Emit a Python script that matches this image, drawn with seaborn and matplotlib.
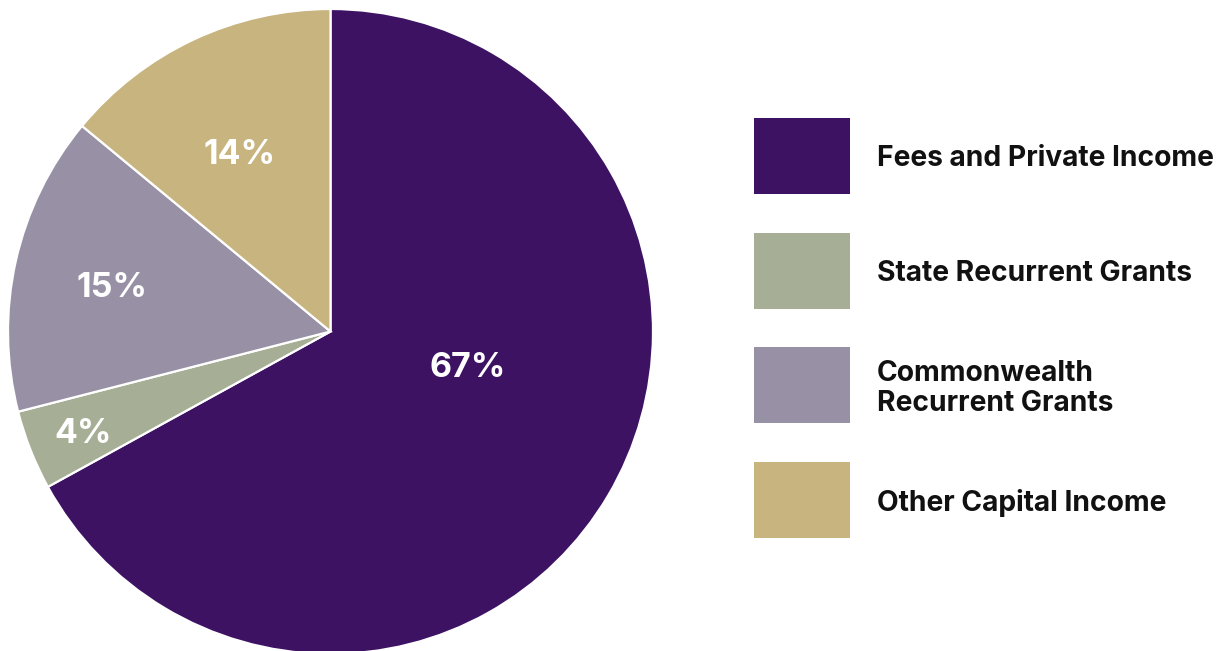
import numpy as np
import matplotlib
matplotlib.use("Agg")
import matplotlib.pyplot as plt
from matplotlib.patches import Rectangle
import seaborn as sns

categories = ["Fees and Private Income", "State Recurrent Grants",
              "Commonwealth\nRecurrent Grants", "Other Capital Income"]
values = [67, 4, 15, 14]
colors = ["#3D1263", "#A6AE96", "#9891A6", "#C8B47F"]

sns.set_theme(style="white")
plt.rcParams['font.family'] = ['Inter', 'DejaVu Sans']

W, H = 1226, 651
fig = plt.figure(figsize=(W / 100, H / 100), dpi=100)
fig.patch.set_facecolor("white")

# pie axes
cx, cy, r = 330.5, 331.5, 322.5
ax = fig.add_axes([(cx - r) / W, (H - cy - r) / H, 2 * r / W, 2 * r / H])
palette = sns.color_palette(colors)
wedges, _ = ax.pie(values, colors=palette, startangle=90, counterclock=False,
                   radius=1, wedgeprops=dict(edgecolor="white", linewidth=1.6))
ax.set_xlim(-1, 1)
ax.set_ylim(-1, 1)
ax.set_aspect("equal")
ax.axis("off")

label_r = [0.44, 0.83, 0.69, 0.615]
label_shift = [15.5, 0.9, 1.2, 2.1]
for w, v, lr, sh in zip(wedges, values, label_r, label_shift):
    ang = np.deg2rad((w.theta1 + w.theta2) / 2 + sh)
    ax.text(lr * np.cos(ang), lr * np.sin(ang), f"{v}%", ha="center", va="center",
            color="white", fontsize=24.5, fontweight="bold")

# legend axes
pitch = (500 - 156) / 3
top = 156 - pitch / 2
bot = 500 + pitch / 2
lx0 = 754
lax = fig.add_axes([lx0 / W, (H - bot) / H, (W - lx0) / W, (bot - top) / H])
lax.set_xlim(0, W - lx0)
lax.set_ylim(3.5, -0.5)
lax.axis("off")
bw, bh = 96, 76 / pitch
for i, (c, lab) in enumerate(zip(palette, categories)):
    lax.add_patch(Rectangle((0, i - bh / 2), bw, bh, facecolor=c, edgecolor="none"))
    lax.text(123, i + 0.025, lab, ha="left", va="center", fontsize=20.3, fontweight="bold",
             color="#111111", linespacing=1.15)

fig.savefig("out.png", dpi=100, facecolor="white")
